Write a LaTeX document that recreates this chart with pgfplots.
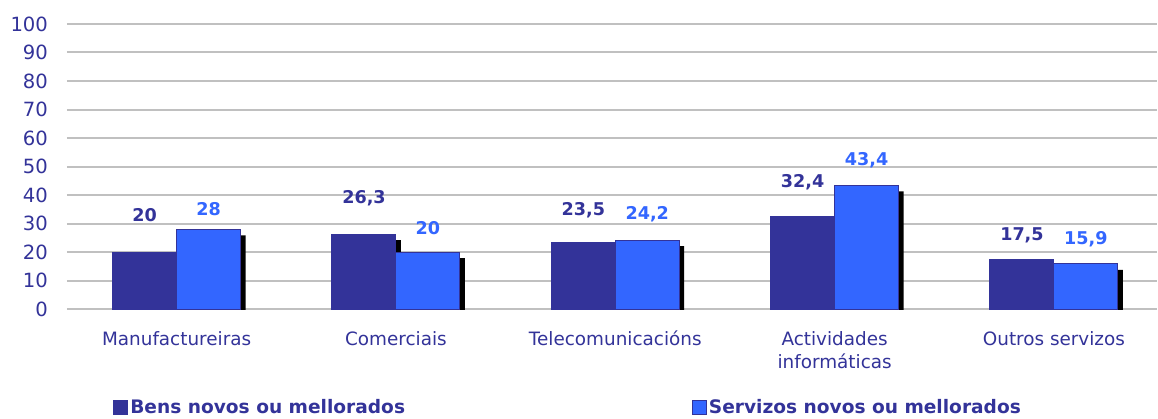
\documentclass[border=0pt]{standalone}
\usepackage{fontspec}
\setmainfont{DejaVu Sans}
\usepackage{pgfplots}
\usepackage{pgfplotstable}
\pgfplotsset{compat=1.18}
\definecolor{navy}{HTML}{333399}
\definecolor{bluebar}{HTML}{3366FF}
\definecolor{gridc}{HTML}{C0C0C0}

\pgfplotstableread{
x y ly
0 20   33.1
1 26.3 39.0
2 23.5 34.8
3 32.4 44.6
4 17.5 26.0
}\bens
\pgfplotstableread{
x y ly
0 28   35.2
1 20   28.5
2 24.2 33.1
3 43.4 52.3
4 15.9 24.6
}\servizos

\begin{document}
\begin{tikzpicture}
\begin{axis}[
  scale only axis,
  width=545.4pt, height=142.65pt,
  xmin=-0.5, xmax=4.47,
  ymin=0, ymax=100,
  ytick={0,10,...,100},
  xtick={0,1,2,3,4},
  xticklabels={Manufactureiras,Comerciais,Telecomunicacións,{Actividades\\informáticas},Outros servizos},
  axis line style={draw=none},
  major tick length=0pt,
  ymajorgrids,
  grid style={gridc, line width=1pt},
  /pgf/number format/assume math mode=true,
  yticklabel style={font=\fontsize{9.8}{11}\selectfont, text=navy, xshift=-6pt},
  xticklabel style={font=\fontsize{9.2}{11.5}\selectfont, text=navy, align=center, anchor=north, yshift=-7.5pt},
  legend columns=2,
  legend style={at={(0,0)}, anchor=west, xshift=23pt, yshift=-49.35pt, draw=none, fill=none, inner sep=0pt,
    font=\fontsize{9.3}{11}\selectfont\bfseries, text=navy,
    /tikz/every even column/.append style={column sep=142.5pt},
    nodes={inner sep=1pt}},
  legend image code/.code={\draw[#1] (0pt,-3.5pt) rectangle (7pt,3.5pt);},
  clip=true,
]
\addplot[ybar, bar width=32pt, bar shift=-16pt, fill=navy, draw=navy, line width=0.5pt,
  preaction={fill=black, draw=none, transform canvas={shift={(2.5pt,-3pt)}}}, forget plot]
  table[x=x, y=y] {\bens};
\addplot[ybar, bar width=32pt, bar shift=16pt, fill=bluebar, draw=navy, line width=0.5pt,
  preaction={fill=black, draw=none, transform canvas={shift={(2.5pt,-3pt)}}}, forget plot]
  table[x=x, y=y] {\servizos};
\addplot[draw=none, mark=none, forget plot, point meta=explicit,
  nodes near coords={\pgfmathprintnumber[use comma, fixed, precision=1]{\pgfplotspointmeta}},
  every node near coord/.style={anchor=center, xshift=-16pt, font=\fontsize{8.8}{10}\selectfont\bfseries, text=navy}]
  table[x=x, y=ly, meta=y] {\bens};
\addplot[draw=none, mark=none, forget plot, point meta=explicit,
  nodes near coords={\pgfmathprintnumber[use comma, fixed, precision=1]{\pgfplotspointmeta}},
  every node near coord/.style={anchor=center, xshift=16pt, font=\fontsize{8.8}{10}\selectfont\bfseries, text=bluebar}]
  table[x=x, y=ly, meta=y] {\servizos};
\addlegendimage{fill=navy, draw=navy, line width=0.5pt}
\addlegendentry{Bens novos ou mellorados}
\addlegendimage{fill=bluebar, draw=navy, line width=0.5pt}
\addlegendentry{Servizos novos ou mellorados}
\end{axis}
\useasboundingbox ([xshift=-33.5pt, yshift=-53.85pt]current axis.south west) rectangle ([yshift=12pt]current axis.north east);
\end{tikzpicture}
\end{document}
